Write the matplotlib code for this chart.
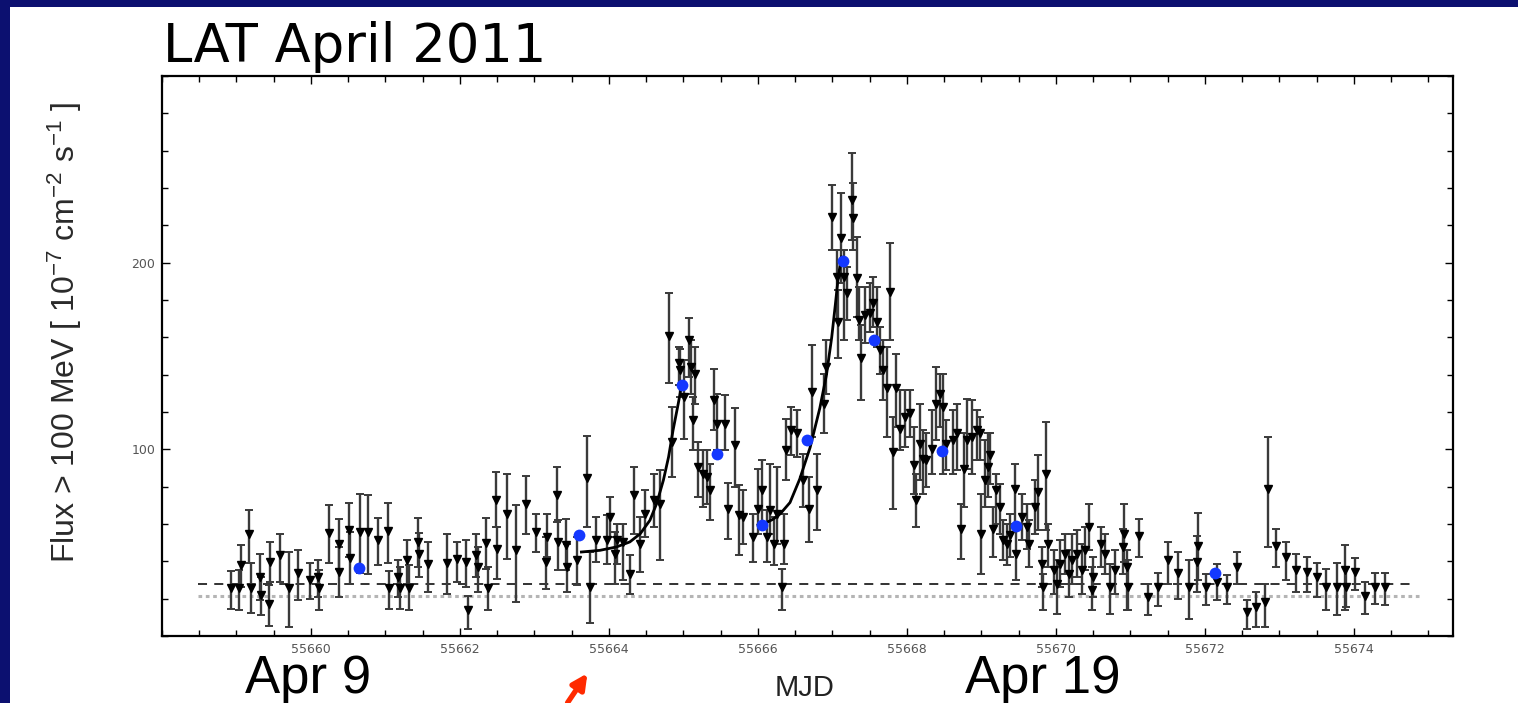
import numpy as np
import matplotlib.pyplot as plt
from matplotlib.patches import Rectangle
from matplotlib.ticker import MultipleLocator

plt.rcParams['mathtext.fontset'] = 'custom'
plt.rcParams['mathtext.rm'] = 'Liberation Sans'
plt.rcParams['mathtext.it'] = 'Liberation Sans:italic'

# LAT light curve (MJD, flux and error bar ends, 1e-7 cm^-2 s^-1)
mjd = [55658.92, 55659.04, 55659.06, 55659.17, 55659.20, 55659.31, 55659.33, 55659.44, 55659.45, 55659.58,
       55659.70, 55659.83, 55659.98, 55660.10, 55660.11, 55660.24, 55660.37, 55660.38, 55660.51, 55660.53,
       55660.66, 55660.77, 55660.90, 55661.03, 55661.05, 55661.17, 55661.19, 55661.29, 55661.31, 55661.43,
       55661.45, 55661.57, 55661.83, 55661.96, 55662.08, 55662.11, 55662.22, 55662.24, 55662.35, 55662.38,
       55662.48, 55662.50, 55662.63, 55662.75, 55662.89, 55663.02, 55663.15, 55663.17, 55663.30, 55663.31,
       55663.42, 55663.44, 55663.57, 55663.70, 55663.74, 55663.83, 55663.97, 55664.02, 55664.08, 55664.11,
       55664.19, 55664.28, 55664.34, 55664.42, 55664.48, 55664.60, 55664.68, 55664.80, 55664.85, 55664.94,
       55664.96, 55665.01, 55665.07, 55665.10, 55665.13, 55665.16, 55665.20, 55665.26, 55665.31, 55665.36,
       55665.41, 55665.45, 55665.56, 55665.60, 55665.69, 55665.74, 55665.80, 55665.94, 55666.00, 55666.05,
       55666.12, 55666.16, 55666.21, 55666.26, 55666.32, 55666.35, 55666.38,
       55666.45, 55666.52, 55666.61, 55666.68, 55666.73, 55666.79, 55666.88, 55666.92, 55666.99, 55667.06,
       55667.08, 55667.11, 55667.15, 55667.19, 55667.26, 55667.27, 55667.33, 55667.35, 55667.38, 55667.44,
       55667.50, 55667.55, 55667.60, 55667.64, 55667.68, 55667.73, 55667.77, 55667.81, 55667.85, 55667.91,
       55667.97, 55668.04, 55668.09, 55668.12, 55668.18, 55668.22, 55668.26, 55668.33, 55668.39, 55668.44,
       55668.49, 55668.53, 55668.62, 55668.67, 55668.73, 55668.76, 55668.80, 55668.87, 55668.94, 55668.98,
       55669.00, 55669.05, 55669.09, 55669.11, 55669.16, 55669.20, 55669.25, 55669.29, 55669.34, 55669.38,
       55669.45, 55669.46, 55669.54, 55669.61, 55669.64, 55669.72, 55669.76, 55669.81, 55669.83, 55669.87,
       55669.90, 55669.97, 55670.01, 55670.05, 55670.12, 55670.17, 55670.21, 55670.28, 55670.35, 55670.39,
       55670.45, 55670.48, 55670.50, 55670.61, 55670.66, 55670.73, 55670.79,
       55670.90, 55670.91, 55670.96, 55670.97, 55671.11, 55671.24, 55671.37, 55671.51, 55671.64, 55671.78,
       55671.90, 55671.91, 55672.02, 55672.16, 55672.29, 55672.43, 55672.56, 55672.69, 55672.81, 55672.84,
       55672.96, 55673.09, 55673.22, 55673.37, 55673.50, 55673.63, 55673.77, 55673.88, 55673.90, 55674.01,
       55674.15, 55674.28, 55674.42]
flux = [25.9, 25.9, 37.9, 54.5, 25.9, 31.6, 21.8, 17.0, 39.6, 43.2,
        25.9, 33.7, 30.2, 31.6, 25.9, 55.2, 49.4, 34.3, 57.0, 42.0,
        55.7, 55.7, 51.3, 56.3, 25.9, 31.6, 25.9, 40.5, 25.9, 50.4,
        44.1, 38.4, 39.1, 41.4, 39.6, 14.1, 43.2, 37.0, 49.8, 25.9,
        72.7, 46.8, 65.6, 45.9, 70.9, 55.7, 39.6, 53.1, 75.4, 50.4,
        48.6, 37.0, 40.9, 84.9, 26.2, 51.3, 51.3, 63.8, 44.1, 51.3,
        50.4, 33.4, 75.4, 49.5, 65.6, 72.7, 70.9, 160.6, 104.0, 146.0,
        142.4, 128.1, 158.5, 144.2, 115.6, 140.6, 90.6, 87.0, 85.2, 78.1,
        126.3, 113.8, 113.8, 68.2, 102.2, 64.7, 63.8, 53.1, 68.2, 78.1,
        53.1, 67.3, 49.5, 65.6, 26.2, 49.5, 99.5,
        110.2, 108.5, 83.4, 68.2, 130.8, 78.1, 124.5, 144.2, 224.6, 192.5,
        168.3, 213.0, 192.5, 183.5, 233.6, 223.7, 191.6, 169.2, 148.7, 171.9,
        172.8, 178.2, 168.3, 153.1, 142.4, 132.6, 184.4, 98.6, 132.6, 111.1,
        117.4, 119.2, 91.5, 72.7, 103.1, 95.0, 94.2, 100.4, 124.5, 129.9,
        122.8, 103.1, 104.9, 108.5, 57.5, 89.7, 104.9, 106.7, 110.2, 108.5,
        54.8, 83.4, 90.6, 96.8, 57.5, 78.1, 69.1, 51.3, 49.5, 53.9,
        79.0, 44.1, 63.8, 58.4, 49.5, 69.1, 77.2, 38.8, 26.2, 87.0,
        49.5, 35.2, 28.0, 38.8, 44.1, 33.4, 40.5, 44.1, 35.2, 45.9,
        58.4, 24.5, 31.6, 49.5, 44.1, 26.2, 35.2,
        47.7, 54.8, 37.0, 26.2, 53.4, 20.9, 26.2, 40.9, 33.7, 26.2,
        39.6, 48.1, 26.2, 28.9, 26.2, 37.0, 12.8, 15.5, 18.2, 79.0,
        48.1, 42.3, 35.2, 34.3, 31.6, 26.2, 26.2, 35.5, 26.2, 34.3,
        21.2, 26.2, 26.2]
flux_hi = [34.8, 35.2, 48.9, 67.3, 39.1, 43.8, 31.6, 27.1, 50.4, 54.5,
           45.0, 46.3, 39.1, 40.5, 35.2, 70.0, 62.9, 47.7, 71.3, 55.7,
           75.9, 75.4, 63.2, 71.3, 34.8, 40.5, 37.0, 51.6, 37.9, 63.4,
           55.2, 50.4, 54.5, 50.4, 51.6, 21.2, 54.8, 47.7, 63.4, 37.0,
           87.9, 58.4, 87.0, 70.0, 85.6, 65.6, 53.1, 65.6, 90.6, 62.0,
           62.9, 49.5, 53.1, 107.0, 45.0, 63.8, 64.7, 74.5, 55.7, 60.2,
           60.2, 43.2, 90.6, 63.8, 78.1, 87.0, 88.8, 183.5, 122.8, 154.9,
           154.0, 147.8, 170.1, 158.5, 128.1, 154.9, 104.0, 99.5, 99.5, 92.4,
           143.3, 129.9, 129.0, 81.7, 121.9, 80.8, 78.1, 65.6, 89.7, 94.2,
           67.4, 92.4, 63.8, 90.6, 36.1, 65.6, 116.5,
           122.8, 121.0, 97.7, 85.2, 155.8, 97.7, 140.6, 158.5, 241.6, 206.8,
           185.3, 237.1, 206.8, 197.8, 258.6, 242.5, 213.9, 187.1, 166.5, 187.1,
           188.9, 192.5, 187.1, 165.6, 158.5, 154.9, 210.3, 117.4, 151.3, 131.7,
           131.7, 131.7, 112.0, 87.0, 124.5, 110.2, 108.5, 121.0, 144.2, 140.6,
           140.6, 115.6, 121.0, 124.5, 70.9, 108.5, 127.2, 126.3, 121.0, 117.4,
           76.3, 104.9, 108.5, 108.5, 69.1, 87.0, 81.6, 62.0, 60.2, 65.6,
           92.4, 60.2, 76.3, 70.9, 62.0, 83.4, 96.8, 47.7, 33.4, 114.7,
           60.2, 45.9, 40.5, 51.3, 54.8, 45.9, 54.8, 56.6, 49.5, 58.4,
           70.9, 37.0, 42.3, 58.4, 54.8, 38.8, 45.9,
           57.5, 70.9, 45.9, 40.5, 62.9, 28.0, 33.7, 50.4, 45.0, 40.5,
           53.4, 65.9, 33.4, 38.8, 32.5, 45.0, 19.1, 23.6, 27.6, 106.7,
           57.5, 50.4, 43.8, 42.3, 39.1, 36.1, 39.1, 48.9, 37.0, 42.0,
           28.9, 33.7, 33.7]
flux_lo = [14.6, 13.7, 26.2, 39.1, 12.3, 19.1, 11.0, 5.1, 28.9, 28.9,
           4.8, 19.1, 20.0, 20.9, 13.7, 39.1, 36.0, 20.9, 42.3, 28.0,
           33.7, 33.4, 37.9, 39.1, 14.6, 20.9, 14.6, 28.0, 13.7, 37.0,
           31.6, 23.5, 22.7, 28.9, 26.2, 3.9, 31.6, 23.5, 36.0, 13.7,
           58.4, 30.7, 41.4, 18.2, 54.8, 45.0, 25.4, 42.3, 61.1, 35.2,
           35.2, 23.6, 27.1, 58.4, 6.9, 39.6, 38.8, 53.1, 28.0, 38.8,
           29.8, 22.7, 54.8, 34.3, 53.1, 58.4, 40.5, 135.3, 85.2, 134.4,
           128.1, 105.8, 138.8, 129.9, 99.5, 124.5, 74.5, 69.1, 70.9, 62.0,
           110.2, 99.5, 99.5, 52.2, 79.9, 43.2, 49.5, 39.6, 54.8, 60.2,
           39.6, 54.8, 37.9, 49.5, 13.7, 38.8, 83.4,
           96.8, 95.9, 69.1, 50.4, 106.7, 56.6, 108.5, 129.9, 206.8, 169.2,
           148.7, 188.9, 158.5, 169.2, 212.1, 206.8, 171.0, 158.5, 126.3, 156.7,
           163.0, 165.6, 154.9, 140.6, 126.3, 106.7, 158.5, 68.2, 112.0, 99.5,
           101.3, 106.7, 76.3, 58.4, 83.4, 76.3, 79.9, 87.0, 104.9, 112.0,
           87.0, 88.8, 87.0, 88.8, 41.4, 69.1, 89.7, 87.0, 94.2, 94.2,
           33.4, 69.1, 74.5, 81.6, 42.3, 60.2, 54.8, 40.5, 37.9, 42.3,
           60.2, 29.8, 51.3, 46.8, 37.0, 54.8, 56.6, 26.2, 13.7, 56.6,
           37.0, 22.7, 11.9, 26.2, 33.4, 20.9, 28.0, 31.6, 22.7, 35.2,
           45.9, 13.7, 20.9, 37.0, 33.4, 11.9, 22.7,
           33.4, 39.6, 13.7, 13.7, 42.3, 11.0, 15.9, 28.0, 20.0, 9.3,
           23.6, 29.8, 16.4, 19.1, 17.3, 28.0, 3.9, 4.8, 4.8, 47.7,
           37.0, 29.8, 23.6, 23.6, 20.9, 13.7, 11.0, 13.7, 15.5, 24.5,
           11.9, 17.3, 16.4]

# comparison points
blue_mjd = [55660.64, 55663.60, 55664.98, 55665.45, 55666.05, 55666.66,
            55667.14, 55667.56, 55668.47, 55669.46, 55672.13]
blue_flux = [36.4, 53.9, 134.4, 97.4, 59.3, 104.9, 201.0, 158.5, 99.2, 58.8, 33.9]

# exponential rise fits
rise1_mjd = [55663.63, 55663.88, 55664.10, 55664.28, 55664.42, 55664.55,
             55664.64, 55664.73, 55664.80, 55664.86, 55664.93, 55664.98]
rise1_flux = [45.0, 45.9, 47.7, 50.4, 54.8, 62.0, 70.9, 83.4, 95.9, 110.2, 124.5, 135.3]
rise2_mjd = [55666.00, 55666.10, 55666.20, 55666.30, 55666.43, 55666.56, 55666.70,
             55666.83, 55666.92, 55666.99, 55667.04, 55667.08, 55667.12]
rise2_flux = [59.5, 60.5, 62.5, 65.5, 71.5, 84.0, 101.0, 122.0, 140.0, 160.0, 178.0, 193.0, 203.0]

# average levels
level_dash = 28.0
level_dot = 21.2
level_start, level_end = 55658.48, 55674.82

x_major = [55660, 55662, 55664, 55666, 55668, 55670, 55672, 55674]
y_major = [100, 200]

W, H = 1518, 703
fig = plt.figure(figsize=(W / 100, H / 100), dpi=100)
fig.patch.set_facecolor('#0c1070')
fig.patches.append(Rectangle((10 / W, 0), 1, 1 - 7 / H, transform=fig.transFigure,
                             facecolor='white', edgecolor='none', zorder=-10))

ax = fig.add_axes([162 / W, 1 - 636 / H, (1453 - 162) / W, (636 - 76) / H])
ax.set_zorder(1)
flux = np.array(flux)
yerr = [flux - np.array(flux_lo), np.array(flux_hi) - flux]

ax.hlines(level_dash, level_start, level_end, colors='#222222', linestyles=(0, (5, 4)), lw=1.3, zorder=1)
ax.hlines(level_dot, level_start, level_end + 0.05, colors='#b5b5b5', linestyles=(0, (1.2, 1.2)), lw=2.2, zorder=1)

ax.errorbar(mjd, flux, yerr=yerr, fmt='v', color='black', ms=5.5, ecolor='#3a3a3a',
            elinewidth=1.7, capsize=3.2, capthick=1.4, zorder=2)
ax.plot(rise1_mjd, rise1_flux, color='black', lw=2.0, zorder=3)
ax.plot(rise2_mjd, rise2_flux, color='black', lw=2.0, zorder=3)
ax.plot(blue_mjd, blue_flux, 'o', color='#1438ff', ms=8.5, mec='none', zorder=4)

ax.set_xlim(55658.0, 55675.33)
ax.set_ylim(0, 300)
ax.set_xticks(x_major)
ax.xaxis.set_minor_locator(MultipleLocator(0.5))
ax.set_yticks(y_major)
ax.yaxis.set_minor_locator(MultipleLocator(20))
ax.tick_params(which='both', direction='in', top=True, right=True, width=1.0,
               labelsize=9, labelcolor='#555555', pad=5)
ax.tick_params(which='major', length=6)
ax.tick_params(which='minor', length=4)
ax.ticklabel_format(useOffset=False, style='plain', axis='x')
for s in ax.spines.values():
    s.set_linewidth(1.6)

ax.set_xlabel('MJD', fontsize=21, family='Liberation Sans', color='#222222')
ax.xaxis.set_label_coords(0.498, -0.068)
fig.text(65 / W, 1 - 332 / H, 'Flux > 100 MeV [ 10$^{-7}$ cm$^{-2}$ s$^{-1}$ ]', rotation=90,
         ha='center', va='center', fontsize=23, family='Liberation Sans', color='#2a2a2a')

fig.text(163 / W, 1 - 62 / H, 'LAT April 2011', fontsize=38, family='DejaVu Sans', va='baseline')
fig.text(245 / W, 1 - 693 / H, 'Apr 9', fontsize=38, family='Liberation Sans', va='baseline')
fig.text(965 / W, 1 - 693 / H, 'Apr 19', fontsize=38, family='Liberation Sans', va='baseline')

ax.annotate('', xy=(589, H - 671), xycoords='figure pixels', xytext=(566, -2),
            textcoords='figure pixels', annotation_clip=False,
            arrowprops=dict(arrowstyle='-|>,head_length=0.9,head_width=0.45', color='#ff2a00', lw=3.8))

fig.savefig('out.png', dpi=100, facecolor=fig.get_facecolor())
